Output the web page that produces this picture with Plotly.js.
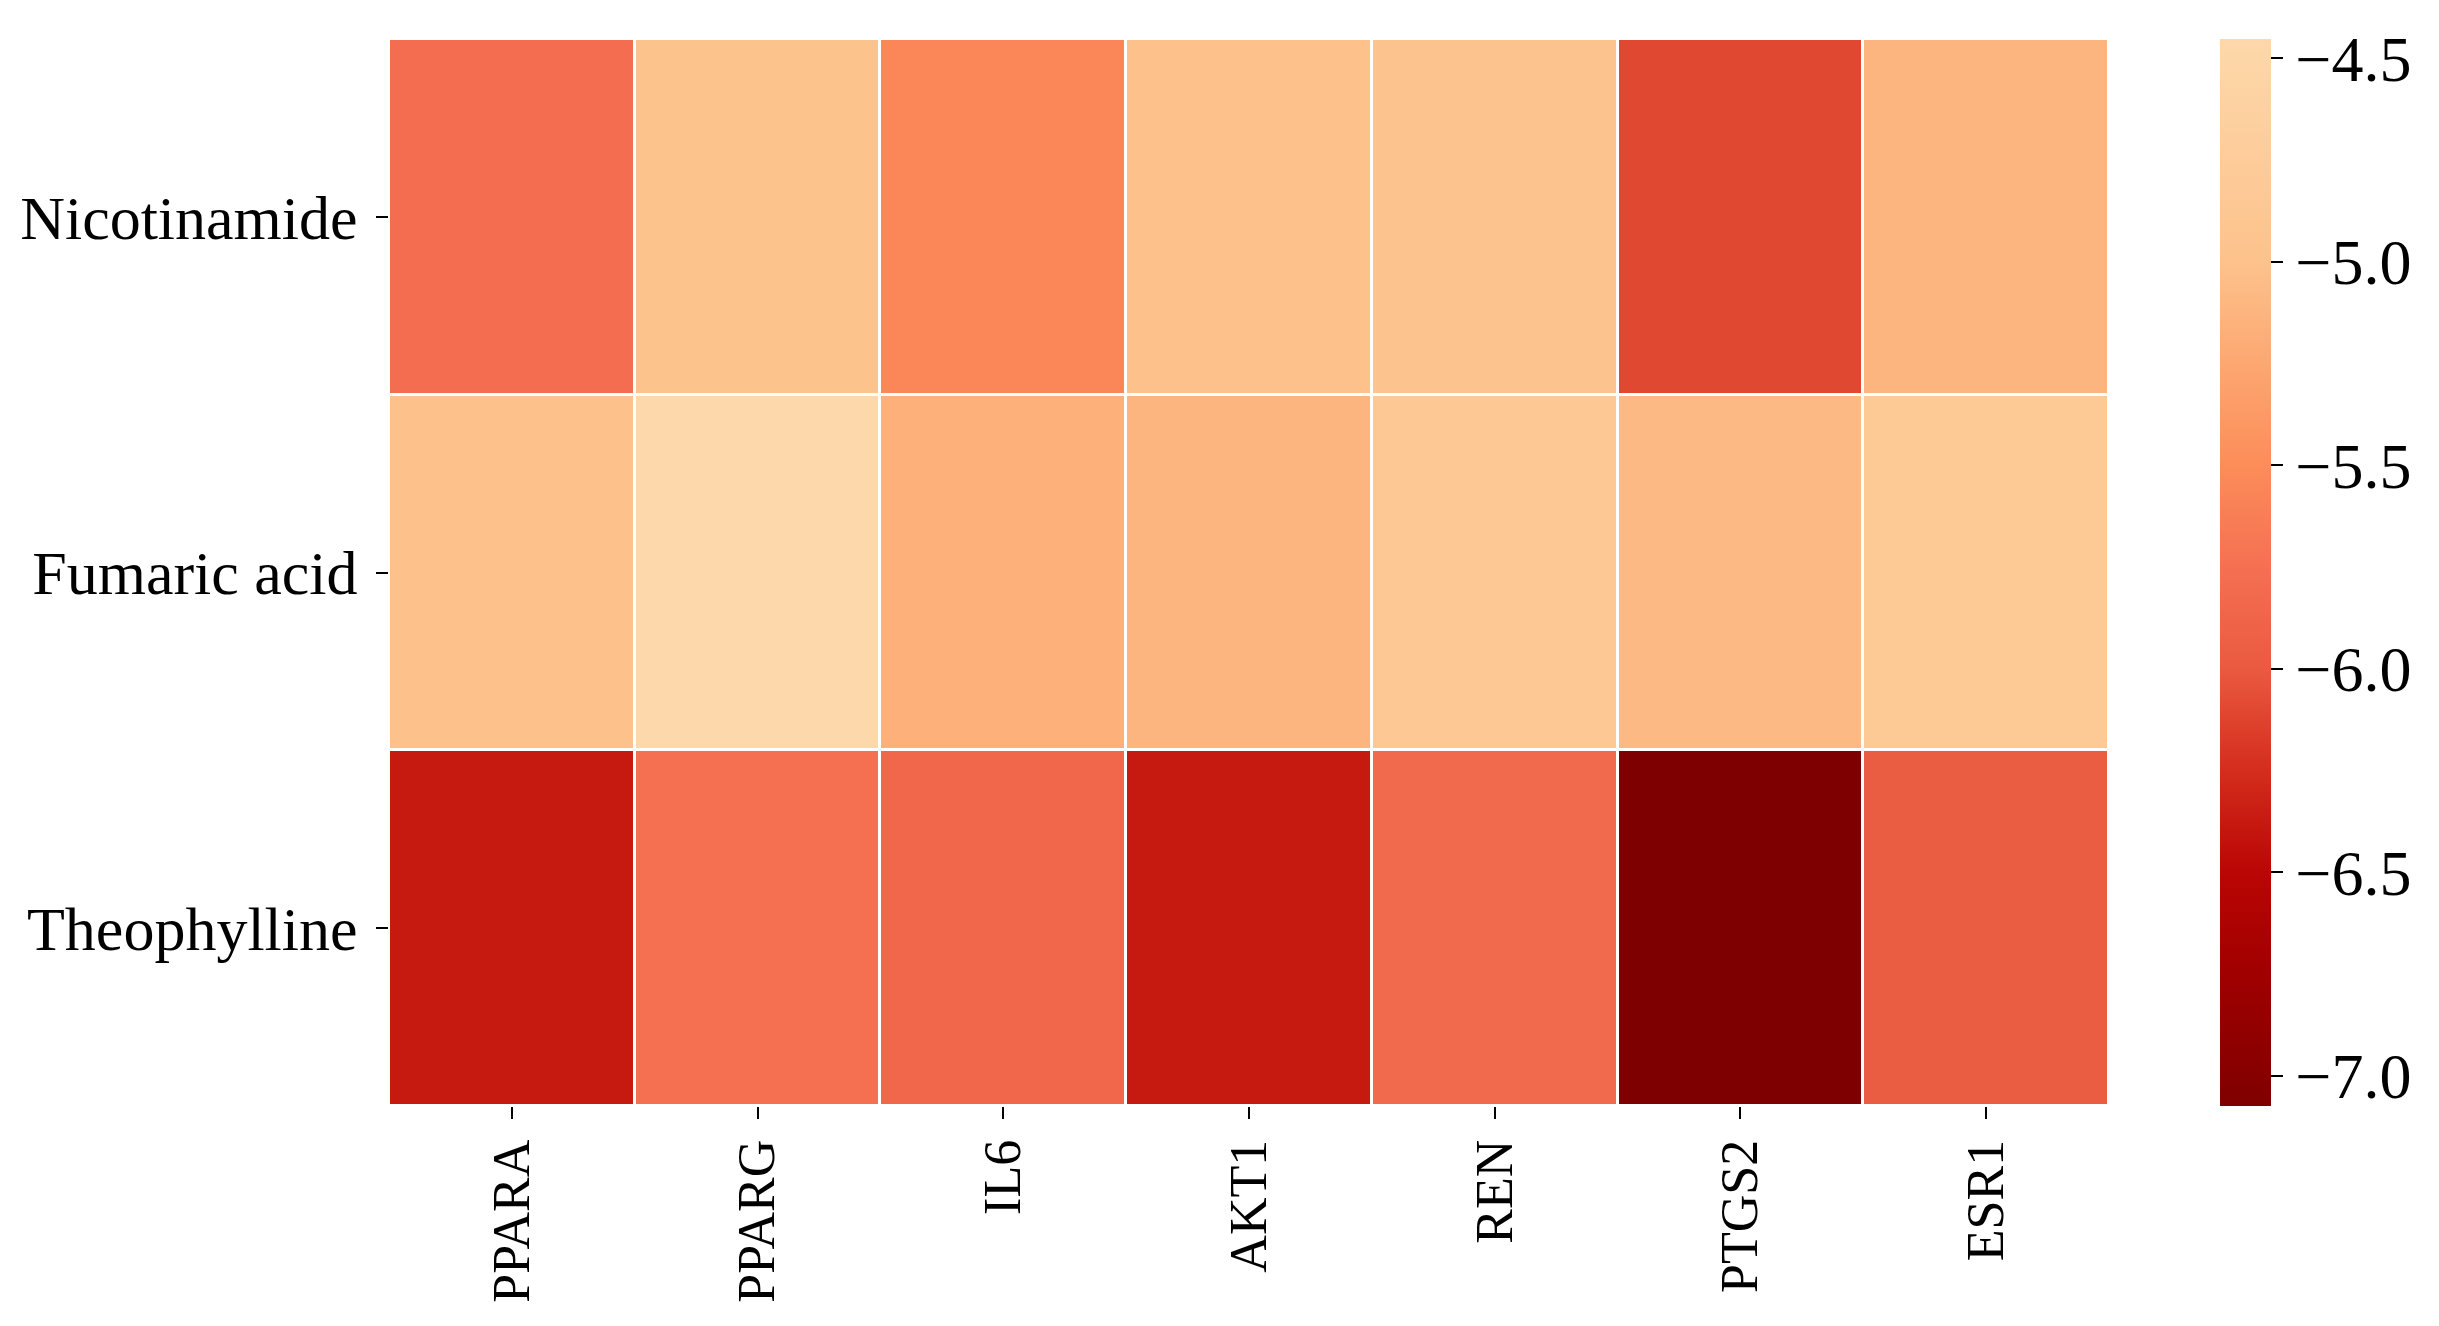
<!DOCTYPE html>
<html>
<head>
<meta charset="utf-8">
<script src="https://cdn.plot.ly/plotly-3.0.1.min.js"></script>
<style>html,body{margin:0;padding:0;background:#fff;}#chart{width:2439px;height:1326px;}</style>
</head>
<body>
<div id="chart"></div>
<script>
const targets = ["PPARA", "PPARG", "IL6", "AKT1", "REN", "PTGS2", "ESR1"];
const compounds = ["Nicotinamide", "Fumaric acid", "Theophylline"];
const nicotinamide = [-5.78, -4.98, -5.55, -5.0, -4.97, -6.1, -5.12];
const fumaricAcid = [-5.0, -4.46, -5.17, -5.12, -4.85, -5.08, -4.83];
const theophylline = [-6.38, -5.76, -5.85, -6.38, -5.82, -7.07, -5.97];
const colorbarTicks = [-4.5, -5.0, -5.5, -6.0, -6.5, -7.0];

const zmin = -7.074, zmax = -4.453;
const scaleValues = [-7.074, -6.75, -6.5, -6.25, -6.0, -5.75, -5.5, -5.25, -5.0, -4.453];
const scaleColors = ["#7f0000", "#a00000", "#ba0604", "#d42d1d", "#ea5a40", "#f57052", "#fc8d59", "#fda771", "#fdc28c", "#fdd8aa"];
const colorscale = scaleValues.map((v, i) => [(v - zmin) / (zmax - zmin), scaleColors[i]]);

const serif = "Liberation Serif, Times New Roman, serif";

const trace = {
  type: "heatmap",
  x: targets,
  y: compounds,
  z: [nicotinamide, fumaricAcid, theophylline],
  zmin: zmin, zmax: zmax,
  colorscale: colorscale,
  xgap: 3, ygap: 3,
  colorbar: {
    x: 1.0645, xanchor: "left", xref: "paper",
    y: 0.5, yanchor: "middle",
    len: 1, lenmode: "fraction",
    thickness: 51, thicknessmode: "pixels",
    xpad: 0, ypad: 0,
    outlinewidth: 0,
    tickvals: colorbarTicks,
    tickformat: ".1f",
    ticks: "outside", ticklen: 12, tickwidth: 2, tickcolor: "#000",
    tickfont: {family: serif, size: 64, color: "#000"}
  }
};

const layout = {
  width: 2439, height: 1326,
  margin: {l: 389, r: 330, t: 39, b: 220, pad: 0},
  paper_bgcolor: "#fff", plot_bgcolor: "#fff",
  xaxis: {
    type: "category",
    tickangle: -90,
    ticks: "outside", ticklen: 12, tickwidth: 2, tickcolor: "#000",
    tickfont: {family: serif, size: 52, color: "#000"},
    showgrid: false, zeroline: false, showline: false
  },
  yaxis: {
    type: "category",
    autorange: "reversed",
    ticks: "outside", ticklen: 12, tickwidth: 2, tickcolor: "#000",
    tickfont: {family: serif, size: 62, color: "#000"},
    ticklabelstandoff: 6,
    showgrid: false, zeroline: false, showline: false
  },
  showlegend: false
};

Plotly.newPlot("chart", [trace], layout, {displayModeBar: false, staticPlot: true});
</script>
</body>
</html>
